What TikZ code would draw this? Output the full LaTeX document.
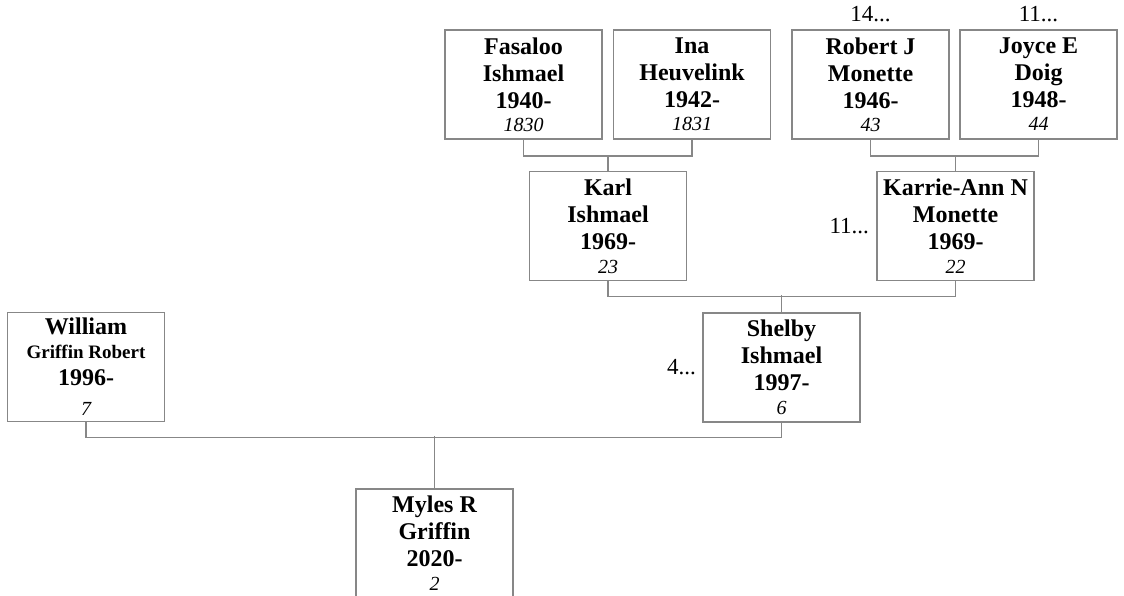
\documentclass[tikz,border=0pt]{standalone}
\usepackage{fontspec}
\setmainfont{Liberation Serif}
\usepackage{tikz}
\usetikzlibrary{positioning}
\definecolor{boxgray}{RGB}{135,135,135}

\begin{document}
\begin{tikzpicture}[x=1pt,y=-1pt,
			person/.style={draw=boxgray, line width=1.8pt, sharp corners, rectangle, minimum width=157pt, minimum height=109pt, inner sep=0pt, align=center, font=\fontsize{24}{27}\selectfont\bfseries},
			link/.style={draw=boxgray, line width=1.5pt},
			more/.style={inner sep=0pt, font=\fontsize{23}{25}\selectfont}]
			\useasboundingbox (0,0) rectangle (1124,596);
			\node[person] (fasaloo) at (523.5,84.5) {Fasaloo\\Ishmael\\1940-\\[-4pt]{\mdseries\itshape\fontsize{20}{22}\selectfont 1830}};
			\node[person] (ina) at (692,84.5) {Ina\\Heuvelink\\1942-\\[-4pt]{\mdseries\itshape\fontsize{20}{22}\selectfont 1831}};
			\node[person] (robert) at (870.5,84.5) {Robert J\\Monette\\1946-\\[-4pt]{\mdseries\itshape\fontsize{20}{22}\selectfont 43}};
			\node[person] (joyce) at (1038.5,84.5) {Joyce E\\Doig\\1948-\\[-4pt]{\mdseries\itshape\fontsize{20}{22}\selectfont 44}};
			\node[person] (karl) at (608,226) {Karl\\Ishmael\\1969-\\[-3pt]{\mdseries\itshape\fontsize{20}{22}\selectfont 23}};
			\node[person] (karrie) at (955.5,226) {Karrie-Ann N\\Monette\\1969-\\[-3pt]{\mdseries\itshape\fontsize{20}{22}\selectfont 22}};
			\node[person] (shelby) at (781.5,367.5) {Shelby\\Ishmael\\1997-\\[-3pt]{\mdseries\itshape\fontsize{20}{22}\selectfont 6}};
			\node[person] (william) at (86,367) {William\\[-3pt]{\fontsize{19}{21}\selectfont Griffin Robert}\\1996-\\[3pt]{\mdseries\itshape\fontsize{20}{22}\selectfont 7}};
			\node[person] (myles) at (434.5,543.5) {Myles R\\Griffin\\2020-\\[-3pt]{\mdseries\itshape\fontsize{20}{22}\selectfont 2}};
			\node[more, above=7pt of robert] (robertmore) {14...};
			\node[more, above=7pt of joyce] (joycemore) {11...};
			\node[more, left=7pt of karrie] (karriemore) {11...};
			\node[more, left=6pt of shelby] (shelbymore) {4...};
			\draw[link] (fasaloo.south) -- ++(0,16) -| (ina.south);
			\draw[link] (karl.north) -- ++(0,-15);
			\draw[link] (robert.south) -- ++(0,16) -| (joyce.south);
			\draw[link] (karrie.north) -- ++(0,-15);
			\draw[link] (karl.south) -- ++(0,15) -| (karrie.south);
			\draw[link] (shelby.north) -- ++(0,-17);
			\draw[link] (william.south) -- ++(0,15) -| (shelby.south);
			\draw[link] (myles.north) -- ++(0,-52);
\end{tikzpicture}
\end{document}
